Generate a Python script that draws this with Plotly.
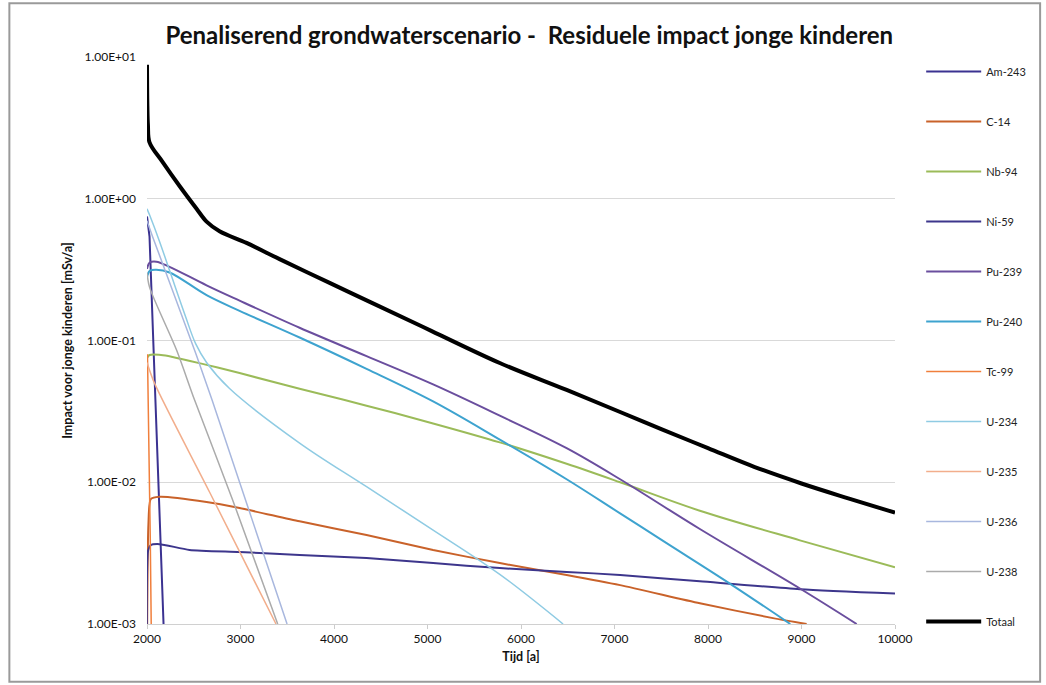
import plotly.graph_objects as go

# Residual impact per radionuclide, young children [mSv/a] vs. time [a]
am243_t = [2000, 2027, 2090, 2177]
am243_v = [0.75, 0.54, 0.038, 0.001]

c14_t = [2000, 2015, 2040, 2134, 2637, 2990, 3632, 4348, 5060, 5773, 6488, 7060, 7913, 8695, 9055]
c14_v = [0.0006, 0.005, 0.0076, 0.0079, 0.00726, 0.00658, 0.0053, 0.00425, 0.00333, 0.00269, 0.00222, 0.00188, 0.0014, 0.0011, 0.001]

nb94_t = [2000, 2027, 2150, 2274, 2637, 2990, 3632, 4348, 5060, 5773, 6488, 7060, 7913, 8983, 10000]
nb94_v = [0.075, 0.079, 0.079, 0.0766, 0.0673, 0.0589, 0.0457, 0.0347, 0.0260, 0.0191, 0.0135, 0.0100, 0.0063, 0.00389, 0.00251]

ni59_t = [2000, 2012, 2040, 2134, 2455, 2990, 3632, 4348, 5060, 5773, 6488, 7060, 7913, 8983, 10000]
ni59_v = [0.0006, 0.0033, 0.0036, 0.00366, 0.00333, 0.00322, 0.00307, 0.00292, 0.00269, 0.00248, 0.00233, 0.00222, 0.00200, 0.00176, 0.00164]

pu239_t = [2000, 2030, 2100, 2241, 2637, 2990, 3632, 4348, 5060, 5773, 6488, 7060, 7913, 8983, 9590]
pu239_v = [0.32, 0.355, 0.36, 0.331, 0.245, 0.191, 0.123, 0.0776, 0.0490, 0.0295, 0.0174, 0.0105, 0.00468, 0.00178, 0.001]

pu240_t = [2000, 2030, 2100, 2241, 2637, 2990, 3632, 4348, 5060, 5773, 6488, 7060, 7557, 8270, 8880]
pu240_v = [0.28, 0.31, 0.315, 0.302, 0.209, 0.162, 0.105, 0.0631, 0.0372, 0.0200, 0.0105, 0.00603, 0.00372, 0.00186, 0.001]

tc99_t = [2005, 2022, 2035, 2045]
tc99_v = [0.08, 0.02, 0.004, 0.001]

u234_t = [2000, 2027, 2134, 2250, 2413, 2520, 2637, 2880, 3632, 4348, 5060, 5773, 6450]
u234_v = [0.85, 0.77, 0.5, 0.3, 0.147, 0.095, 0.07, 0.046, 0.0189, 0.0093, 0.0046, 0.00224, 0.001]

u235_t = [2000, 2080, 2670, 3380]
u235_v = [0.07, 0.05, 0.0085, 0.001]

u236_t = [2000, 2060, 2510, 2696, 3498]
u236_v = [0.7, 0.54, 0.085, 0.038, 0.001]

u238_t = [2000, 2027, 2316, 2509, 2916, 3398]
u238_v = [0.3, 0.238, 0.0857, 0.038, 0.0075, 0.001]

totaal_t = [2000, 2004, 2010, 2027, 2166, 2348, 2530, 2637, 2776, 3064, 3418, 3953, 4400,
            5040, 5773, 6488, 7060, 7500, 8000, 8500, 9000, 9500, 10000]
totaal_v = [8.8, 4.5, 3.3, 2.5, 1.82, 1.23, 0.85, 0.69, 0.59, 0.488, 0.375, 0.255, 0.185,
            0.117, 0.0694, 0.0448, 0.0313, 0.0237, 0.0174, 0.0128, 0.0098, 0.0077, 0.0061]

y_ticks = [1e-3, 1e-2, 1e-1, 1e0, 1e1]
y_ticktext = ["1.00E-03", "1.00E-02", "1.00E-01", "1.00E+00", "1.00E+01"]
x_ticks = [2000, 3000, 4000, 5000, 6000, 7000, 8000, 9000, 10000]

# name, times, values, colour, width, line shape, smoothing
series = [
    ("Am-243", am243_t, am243_v, "#3B3291", 2, "linear", 0),
    ("C-14", c14_t, c14_v, "#C9622A", 2, "spline", 0.6),
    ("Nb-94", nb94_t, nb94_v, "#9BBB59", 2, "spline", 1.0),
    ("Ni-59", ni59_t, ni59_v, "#3D368C", 2, "spline", 0.6),
    ("Pu-239", pu239_t, pu239_v, "#6A4E9E", 2, "spline", 1.0),
    ("Pu-240", pu240_t, pu240_v, "#3EA3CF", 2, "spline", 1.0),
    ("Tc-99", tc99_t, tc99_v, "#F07F3C", 1.5, "linear", 0),
    ("U-234", u234_t, u234_v, "#8FCBE3", 1.5, "spline", 1.0),
    ("U-235", u235_t, u235_v, "#F2AE8C", 1.5, "spline", 0.8),
    ("U-236", u236_t, u236_v, "#A8B7DE", 1.5, "spline", 0.8),
    ("U-238", u238_t, u238_v, "#ABABAB", 1.5, "spline", 0.8),
    ("Totaal", totaal_t, totaal_v, "#000000", 4, "spline", 1.0),
]

fig = go.Figure()
for name, t, v, color, width, shape, smooth in series:
    line = dict(color=color, width=width, shape=shape)
    if shape == "spline":
        line["smoothing"] = smooth
    fig.add_trace(go.Scatter(x=t, y=v, name=name, mode="lines",
                             legendgroup=name, line=line))

font_family = "Lato, 'DejaVu Sans', sans-serif"

fig.update_layout(
    width=1046, height=685,
    margin=dict(l=147, r=151, t=57, b=61),
    paper_bgcolor="white", plot_bgcolor="white",
    font=dict(family=font_family, color="#111111"),
    title=dict(
        text="<b>Penaliserend grondwaterscenario -  Residuele impact jonge kinderen</b>",
        x=0.506, xanchor="center", y=0.948, yanchor="middle",
        font=dict(size=24, color="#111111", family=font_family),
    ),
    legend=dict(
        x=1.035, xanchor="left", y=1.0, yanchor="top",
        bgcolor="rgba(0,0,0,0)", font=dict(size=11, color="#222222"),
        tracegroupgap=31, itemwidth=55, maxheight=700,
    ),
    xaxis=dict(
        range=[2000, 10000], tickvals=x_ticks, ticktext=[str(v) for v in x_ticks],
        showgrid=False, zeroline=False,
        showline=True, linecolor="#d0d0d0", linewidth=1,
        ticks="outside", ticklen=4, tickcolor="#cccccc",
        tickfont=dict(size=12, color="#111111"),
        title=dict(text="<b>Tijd [a]</b>", font=dict(size=12.5), standoff=6),
    ),
    yaxis=dict(
        type="log", range=[-3, 1], tickvals=y_ticks, ticktext=y_ticktext,
        showgrid=True, gridcolor="#d9d9d9", gridwidth=1,
        zeroline=False, showline=False, ticks="",
        ticklabelstandoff=10,
        tickfont=dict(size=12, color="#111111"),
        title=dict(text="<b>Impact voor jonge kinderen [mSv/a]</b>", font=dict(size=12.5), standoff=9),
    ),
)

# Outer chart frame
fig.add_shape(type="rect", xref="paper", yref="paper",
              x0=-0.184, x1=1.194, y0=-0.102, y1=1.095,
              line=dict(color="#9a9a9a", width=2), fillcolor="rgba(0,0,0,0)", layer="below")

fig.write_html("out.html")
